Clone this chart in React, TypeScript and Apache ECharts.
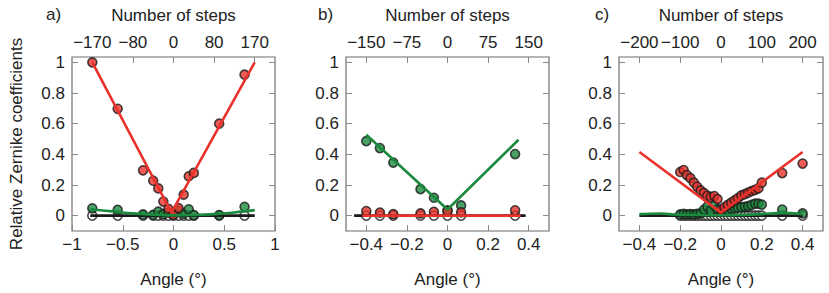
import React, { useEffect, useRef } from "react";
import * as echarts from "echarts";

// ---------- tick values & labels ----------
const yTicks = [0, 0.2, 0.4, 0.6, 0.8, 1];
const bottomTicksA = [-1, -0.5, 0, 0.5, 1];
const bottomTicksBC = [-0.4, -0.2, 0, 0.2, 0.4];
const topTicksA = [-0.8, -0.4, 0, 0.4, 0.8];
const topLabelsA = ["\u2212170", "\u221280", "0", "80", "170"];
const topTicksB = [-0.4, -0.2, 0, 0.2, 0.4];
const topLabelsB = ["\u2212150", "\u221275", "0", "75", "150"];
const topTicksC = [-0.4, -0.2, 0, 0.2, 0.4];
const topLabelsC = ["\u2212200", "\u2212100", "0", "100", "200"];

// ---------- panel a ----------
const xA = [-0.8, -0.55, -0.3, -0.2, -0.15, -0.1, -0.05, 0, 0.05, 0.1, 0.15, 0.2, 0.45, 0.7];
const redA = [1.0, 0.697, 0.296, 0.228, 0.178, 0.092, 0.045, 0.005, 0.05, 0.137, 0.257, 0.279, 0.6, 0.92];
const greenA = [0.048, 0.038, 0.008, 0.006, 0.026, 0.01, 0.022, 0.013, 0.032, 0.012, 0.042, 0.004, 0.004, 0.058];
const whiteA = [0, 0, 0, 0, 0, 0, 0, 0, 0, 0, 0, 0, 0, 0];
const blackLineA = [[-0.82, 0], [0.8, 0]];
const redLineA = [[-0.8, 1.0], [-0.02, 0.02], [0.8, 1.0]];
const greenLineA = [[-0.82, 0.042], [-0.6, 0.028], [-0.4, 0.015], [-0.2, 0.006], [0, 0.002], [0.2, 0.004], [0.4, 0.01], [0.6, 0.021], [0.8, 0.036]];

// ---------- panel b ----------
const xB = [-0.4, -0.333, -0.267, -0.133, -0.067, 0, 0.067, 0.333];
const greenB = [0.486, 0.441, 0.346, 0.173, 0.117, 0.035, 0.067, 0.402];
const redB = [0.03, 0.02, 0.01, 0.015, 0.025, 0.03, 0.022, 0.035];
const whiteB = [0, 0, 0, 0, 0, 0, 0, 0];
const blackLineB = [[-0.46, 0], [0.385, 0]];
const redLineB = [[-0.42, 0], [0.36, 0]];
const greenLineB = [[-0.4, 0.528], [0, 0.04], [0.35, 0.495]];

// ---------- panel c ----------
const xC = [-0.2, -0.183, -0.167, -0.15, -0.133, -0.117, -0.1, -0.083, -0.067, -0.05, -0.033, -0.017, 0,
  0.017, 0.033, 0.05, 0.067, 0.083, 0.1, 0.117, 0.133, 0.15, 0.167, 0.183, 0.2, 0.3, 0.4];
const redC = [0.285, 0.298, 0.265, 0.245, 0.215, 0.19, 0.165, 0.148, 0.13, 0.122, 0.128, 0.108, 0.04,
  0.055, 0.07, 0.085, 0.1, 0.115, 0.132, 0.14, 0.15, 0.16, 0.168, 0.178, 0.215, 0.278, 0.34];
const greenC = [0.008, 0.012, 0.008, 0.01, 0.008, 0.012, 0.015, 0.04, 0.06, 0.035, 0.065, 0.04, 0.025,
  0.03, 0.035, 0.045, 0.048, 0.052, 0.055, 0.058, 0.062, 0.07, 0.078, 0.078, 0.072, 0.04, 0.015];
const whiteC = [0, 0, 0, 0, 0, 0, 0, 0, 0, 0, 0, 0, 0, 0, 0, 0, 0, 0, 0, 0, 0, 0, 0, 0, 0, 0, 0];
const blackLineC = [[-0.4, 0], [0.4, 0]];
const redLineC = [[-0.4, 0.415], [0, 0.02], [0.4, 0.415]];
const greenLineC = [[-0.4, 0.01], [-0.35, 0.013], [-0.3, 0.014], [-0.25, 0.01], [-0.2, 0.005], [-0.1, 0.004], [0, 0.003], [0.1, 0.005], [0.2, 0.01], [0.3, 0.018], [0.4, 0.01]];

const FONT = "'Liberation Sans', Arial, Helvetica, sans-serif";
const TEXT = "#222";
const FRAME = "#6f6f6f";
const TICK = "#8a8a8a";
const RED = "#e8322b";
const GREEN = "#1b8a3e";
const BLACK = "#1a1a1a";

const zip = (xs: number[], ys: number[]) => xs.map((x, i) => [x, ys[i]]);
const minusFmt = (v: number) => {
  const s = String(Math.round(v * 1000) / 1000);
  return s.replace("-", "\u2212");
};

export default function App() {
  const ref = useRef<HTMLDivElement>(null);
  useEffect(() => {
    const chart = echarts.init(ref.current!, null, { renderer: "svg" });

    const panels = [
      { left: 72, width: 203, xmin: -1, xmax: 1, bottomTicks: bottomTicksA, topTicks: topTicksA, topLabels: topLabelsA,
        x: xA, red: redA, green: greenA, white: whiteA, black: blackLineA, redLine: redLineA, greenLine: greenLineA, smoothGreen: true, tag: "a)", tagLeft: 46 },
      { left: 346, width: 203, xmin: -0.5, xmax: 0.5, bottomTicks: bottomTicksBC, topTicks: topTicksB, topLabels: topLabelsB,
        x: xB, red: redB, green: greenB, white: whiteB, black: blackLineB, redLine: redLineB, greenLine: greenLineB, smoothGreen: false, tag: "b)", tagLeft: 318 },
      { left: 619, width: 204, xmin: -0.5, xmax: 0.5, bottomTicks: bottomTicksBC, topTicks: topTicksC, topLabels: topLabelsC,
        x: xC, red: redC, green: greenC, white: whiteC, black: blackLineC, redLine: redLineC, greenLine: greenLineC, smoothGreen: true, tag: "c)", tagLeft: 595 },
    ];

    const grid: any[] = [];
    const xAxis: any[] = [];
    const yAxis: any[] = [];
    const series: any[] = [];
    const graphic: any[] = [];

    const labelStyle = { fontSize: 17, color: TEXT, fontFamily: FONT };
    const nameStyle = { fontSize: 17, color: TEXT, fontFamily: FONT };
    const noLine = { show: false, onZero: false };

    panels.forEach((p, i) => {
      grid.push({ left: p.left, top: 57, width: p.width, height: 174, show: true, borderColor: FRAME, borderWidth: 1.2, backgroundColor: "transparent" });
      // bottom x
      xAxis.push({
        type: "value", gridIndex: i, position: "bottom", min: p.xmin, max: p.xmax,
        axisLine: noLine, splitLine: { show: false },
        axisTick: { show: true, inside: true, length: 6, lineStyle: { color: TICK }, customValues: p.bottomTicks },
        axisLabel: { ...labelStyle, margin: 5, customValues: p.bottomTicks, formatter: (v: number) => minusFmt(v) },
        name: "Angle (\u00b0)", nameLocation: "middle", nameGap: 40, nameTextStyle: nameStyle,
      });
      // top x
      const tt = p.topTicks;
      const tl = p.topLabels;
      xAxis.push({
        type: "value", gridIndex: i, position: "top", min: p.xmin, max: p.xmax,
        axisLine: noLine, splitLine: { show: false },
        axisTick: { show: true, inside: true, length: 6, lineStyle: { color: TICK }, customValues: tt },
        axisLabel: {
          ...labelStyle, margin: 6, customValues: tt,
          formatter: (v: number) => {
            const k = tt.findIndex((t) => Math.abs(t - v) < 1e-9);
            return k >= 0 ? tl[k] : "";
          },
        },
        name: "Number of steps", nameLocation: "middle", nameGap: 33, nameTextStyle: nameStyle,
      });
      // left y
      yAxis.push({
        type: "value", gridIndex: i, position: "left", min: -0.1, max: 1.035,
        axisLine: noLine, splitLine: { show: false },
        axisTick: { show: true, inside: true, length: 6, lineStyle: { color: TICK }, customValues: yTicks },
        axisLabel: { ...labelStyle, margin: 7, customValues: yTicks },
        ...(i === 0
          ? { name: "Relative Zernike coefficients", nameLocation: "middle", nameGap: 47, nameRotate: 90, nameTextStyle: nameStyle }
          : {}),
      });
      // right y (mirror ticks)
      yAxis.push({
        type: "value", gridIndex: i, position: "right", min: -0.1, max: 1.035,
        axisLine: noLine, splitLine: { show: false },
        axisTick: { show: true, inside: true, length: 6, lineStyle: { color: TICK }, customValues: yTicks },
        axisLabel: { show: false },
      });

      const xi = 2 * i;
      const yi = 2 * i;
      const lineBase = { type: "line", xAxisIndex: xi, yAxisIndex: yi, showSymbol: false, symbol: "none", silent: true };
      series.push({ ...lineBase, data: p.black, lineStyle: { color: BLACK, width: 2.6 } });
      series.push({ ...lineBase, data: p.greenLine, smooth: p.smoothGreen ? 0.4 : false, lineStyle: { color: GREEN, width: 2.6 } });
      series.push({ ...lineBase, data: p.redLine, lineStyle: { color: RED, width: 2.6 } });
      const scBase = { type: "scatter", xAxisIndex: xi, yAxisIndex: yi, symbol: "circle", symbolSize: 9, silent: true };
      series.push({ ...scBase, data: zip(p.x, p.white), itemStyle: { color: "#ffffff", borderColor: BLACK, borderWidth: 1.6 } });
      series.push({ ...scBase, data: zip(p.x, p.green), itemStyle: { color: GREEN, borderColor: BLACK, borderWidth: 1.6 } });
      series.push({ ...scBase, data: zip(p.x, p.red), itemStyle: { color: RED, borderColor: BLACK, borderWidth: 1.6 } });

      graphic.push({ type: "text", left: p.tagLeft, top: 6, style: { text: p.tag, fontSize: 17, fill: TEXT, fontFamily: FONT } });
    });

    chart.setOption({
      animation: false,
      backgroundColor: "#ffffff",
      textStyle: { fontFamily: FONT },
      grid, xAxis, yAxis, series, graphic,
    });
    return () => chart.dispose();
  }, []);
  return <div ref={ref} style={{ position: "absolute", left: 0, top: 0, width: 829, height: 293 }} />;
}
